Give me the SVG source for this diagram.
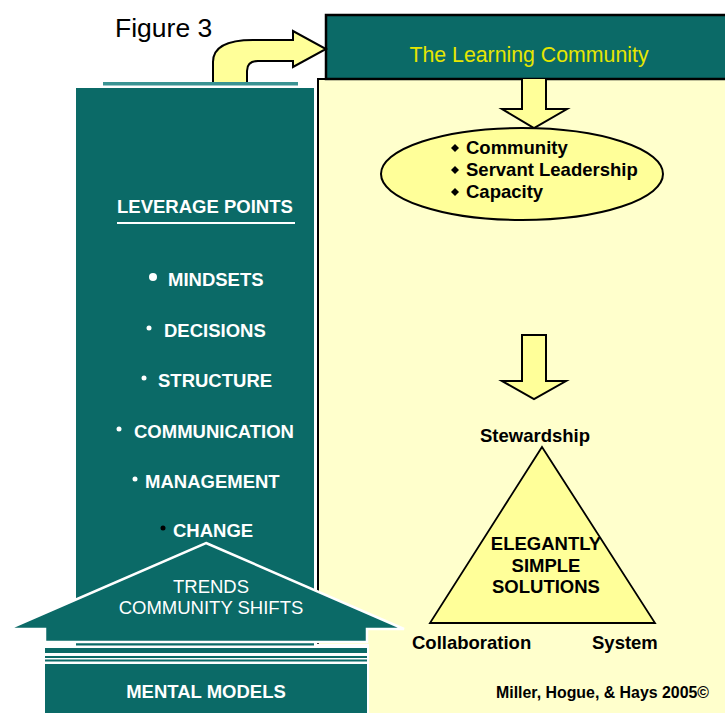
<svg xmlns="http://www.w3.org/2000/svg" width="725" height="713" viewBox="0 0 725 713">
  <style>
    .teal { fill: #0B6A67; }
    .pale { fill: #FFFFCC; }
    .blk { fill: #FFFF99; stroke: #000; stroke-width: 2; stroke-linejoin: miter; }
    .wb { font-family: "Liberation Sans", Arial, sans-serif; font-weight: bold; font-size: 18.5px; fill: #FFFFFF; }
    .wr { font-family: "Liberation Sans", Arial, sans-serif; font-size: 18.5px; fill: #FFFFFF; }
    .kb { font-family: "Liberation Sans", Arial, sans-serif; font-weight: bold; font-size: 18.5px; fill: #000000; }
    .dot { fill: #FFFFFF; }
  </style>

  <rect x="0" y="0" width="725" height="713" fill="#FFFFFF"/>

  <!-- caption -->
  <g id="figure-label">
    <text x="115" y="37" font-family="Liberation Sans, Arial, sans-serif" font-size="26.5" fill="#000">Figure 3</text>
  </g>

  <!-- pale panel behind the right half -->
  <g id="panel">
    <rect x="318" y="79" width="420" height="650" class="pale" stroke="#000" stroke-width="2"/>
  </g>

  <!-- header box -->
  <g id="learning-community">
    <rect x="326" y="15" width="410" height="64" class="teal" stroke="#000" stroke-width="2.5"/>
    <text x="529" y="62" text-anchor="middle" font-family="Liberation Sans, Arial, sans-serif" font-size="21.3" fill="#E6E600">The Learning Community</text>
  </g>

  <!-- block arrows -->
  <g id="connectors">
    <path class="blk" d="M213,84 L213,62 Q213,40 253,40 L293,40 L293,31 L326,49 L293,67 L293,61 L258,61 Q247,61 247,71 L247,84 Z"/>
    <path class="blk" d="M522,79 L522,109 L502,109 L534,128 L567,109 L546,109 L546,79"/>
    <path class="blk" d="M522,335 L522,381 L502,381 L534,399 L566,381 L546,381 L546,335 Z"/>
  </g>

  <!-- left column of leverage points -->
  <g id="leverage-column">
    <rect x="76" y="88" width="238" height="558" class="teal"/>
    <rect x="103" y="82" width="195" height="3.5" fill="#3A9393"/>
    <text x="117" y="213" class="wb">LEVERAGE POINTS</text>
    <rect x="117" y="222" width="178" height="2" fill="#FFFFFF"/>
    <circle cx="153" cy="277" r="4" class="dot"/>
    <text x="168" y="286" class="wb">MINDSETS</text>
    <circle cx="149" cy="328" r="2.5" class="dot"/>
    <text x="164" y="337" class="wb">DECISIONS</text>
    <circle cx="144" cy="378" r="2.5" class="dot"/>
    <text x="158" y="387" class="wb">STRUCTURE</text>
    <circle cx="119" cy="429" r="2.5" class="dot"/>
    <text x="134" y="438" class="wb">COMMUNICATION</text>
    <circle cx="135" cy="479" r="2.5" class="dot"/>
    <text x="145" y="488" class="wb">MANAGEMENT</text>
    <circle cx="163" cy="528" r="2.5" fill="#000000"/>
    <text x="173" y="537" class="wb">CHANGE</text>
  </g>

  <!-- house-shaped trends block -->
  <g id="trends">
    <polygon points="206,543 404,629 367,629 367,642 45,642 45,629 8,629" class="teal" stroke="#FFFFFF" stroke-width="2.5"/>
    <text x="211" y="593" text-anchor="middle" class="wr">TRENDS</text>
    <text x="211" y="614" text-anchor="middle" class="wr">COMMUNITY SHIFTS</text>
  </g>

  <!-- foundation -->
  <g id="mental-models">
    <rect x="45" y="644" width="324" height="72" fill="#FFFFFF"/>
    <rect x="76" y="644" width="238" height="1.5" class="teal"/>
    <rect x="45" y="648" width="322" height="5" class="teal"/>
    <rect x="45" y="656" width="322" height="2" class="teal"/>
    <rect x="45" y="659.5" width="322" height="2" class="teal"/>
    <rect x="45" y="664" width="322" height="50" class="teal"/>
    <text x="206" y="698" text-anchor="middle" class="wb">MENTAL MODELS</text>
  </g>

  <!-- values ellipse -->
  <g id="values">
    <ellipse cx="522" cy="174" rx="141" ry="46" fill="#FFFF99" stroke="#000" stroke-width="2"/>
    <polygon points="455,144 459,148 455,152 451,148" fill="#000"/>
    <text x="466" y="154" class="kb">Community</text>
    <polygon points="455,166 459,170 455,174 451,170" fill="#000"/>
    <text x="466" y="176" class="kb">Servant Leadership</text>
    <polygon points="455,188 459,192 455,196 451,192" fill="#000"/>
    <text x="466" y="198" class="kb">Capacity</text>
  </g>

  <!-- solutions triangle -->
  <g id="solutions">
    <text x="535" y="442" text-anchor="middle" class="kb">Stewardship</text>
    <polygon points="542,447 655,623 430,623" fill="#FFFF99" stroke="#000" stroke-width="1.8"/>
    <text x="546" y="550" text-anchor="middle" class="kb">ELEGANTLY</text>
    <text x="546" y="572" text-anchor="middle" class="kb">SIMPLE</text>
    <text x="546" y="593" text-anchor="middle" class="kb">SOLUTIONS</text>
    <text x="412" y="649" class="kb">Collaboration</text>
    <text x="592" y="649" class="kb">System</text>
  </g>

  <g id="credit">
    <text x="496" y="698" class="kb" style="font-size:15.9px">Miller, Hogue, &amp; Hays 2005©</text>
  </g>
</svg>
